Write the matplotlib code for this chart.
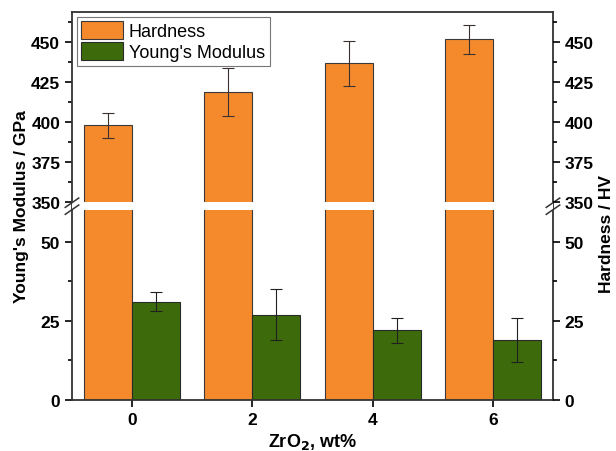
import matplotlib
matplotlib.use("Agg")
import matplotlib.pyplot as plt
import numpy as np

# data
zro2 = [0, 2, 4, 6]
hardness = [398, 419, 437, 452]
hardness_err = [8, 15, 14, 9]
modulus = [31, 27, 22, 19]
modulus_err = [3, 8, 4, 7]

major_ticks = [0, 25, 50, 350, 375, 400, 425, 450]
minor_ticks = [12.5, 37.5, 362.5, 387.5, 412.5, 437.5, 462.5]

plt.rcParams["font.family"] = ["Liberation Sans", "DejaVu Sans"]

# broken y axis: 0-60 in the lower half, 350-469 in the upper half
data_pts = [-100, 0, 60, 350, 1000]
scale_pts = [-316.7, 0, 190, 198, 198 + 650 * 1.6]

def fwd(v):
    return np.interp(v, data_pts, scale_pts)

def inv(v):
    return np.interp(v, scale_pts, data_pts)

orange = "#F58A2D"
green = "#3D6B0C"

fig = plt.figure(figsize=(6.16, 4.52), dpi=100)
ax = fig.add_axes([72 / 616, 51 / 452, 481 / 616, 388 / 452])
ax.set_yscale("function", functions=(fwd, inv))

x = np.array(zro2, dtype=float)
w = 0.8
ax.bar(x - w / 2, hardness, w, color=orange, edgecolor="#3a3a3a", lw=0.8,
       label="Hardness", zorder=2)
ax.bar(x + w / 2, modulus, w, color=green, edgecolor="#2a2a2a", lw=0.8,
       label="Young's Modulus", zorder=2)
ax.errorbar(x - w / 2, hardness, yerr=hardness_err, fmt="none",
            ecolor="#3a3030", elinewidth=0.8, capsize=4, capthick=0.8, zorder=3)
ax.errorbar(x + w / 2, modulus, yerr=modulus_err, fmt="none",
            ecolor="#202020", elinewidth=0.8, capsize=4, capthick=0.8, zorder=3)

# white gap across the bars
ax.axhspan(60, 350, color="white", zorder=4, lw=0)

ax.set_xlim(-1, 7)
ax.set_ylim(0, 469)
ax.set_xticks(zro2)
ax.set_yticks(major_ticks)
ax.set_yticks(minor_ticks, minor=True)
ax.tick_params(axis="both", direction="out", width=1.2, length=5,
               labelsize=12.5)
ax.tick_params(axis="y", which="minor", direction="out", width=1.2, length=3)
ax.tick_params(axis="y", right=True, which="both")
ax.tick_params(top=False)
for lab in ax.get_xticklabels() + ax.get_yticklabels():
    lab.set_fontweight("bold")
for s in ax.spines.values():
    s.set_linewidth(1.3)
    s.set_color("#333333")

ax2 = ax.twinx()
ax2.set_yscale("function", functions=(fwd, inv))
ax2.set_ylim(0, 469)
ax2.set_yticks(major_ticks)
ax2.set_yticks(minor_ticks, minor=True)
ax2.tick_params(axis="y", which="major", direction="out", width=1.2, length=5,
                labelsize=12.5)
ax2.tick_params(axis="y", which="minor", direction="out", width=1.2, length=3)
for lab in ax2.get_yticklabels():
    lab.set_fontweight("bold")
for s in ax2.spines.values():
    s.set_visible(False)

ax.set_ylabel("Young's Modulus / GPa", fontsize=12.5, fontweight="bold")
ax.yaxis.set_label_coords(-0.09, 0.5)
ax2.set_ylabel("Hardness / HV", fontsize=12.5, fontweight="bold")
ax2.yaxis.set_label_coords(1.095, 0.43)
ax.set_xlabel("ZrO$_\\mathbf{2}$, wt%", fontsize=13, fontweight="bold",
              labelpad=3)

# break marks on both spines
ybreak = (fwd(60) + fwd(350)) / 2 / fwd(469)
for xs in (0, 1):
    for dy in (-0.009, 0.009):
        ax.plot([xs - 0.014, xs + 0.014], [ybreak + dy - 0.012, ybreak + dy + 0.012],
                transform=ax.transAxes, color="#333333", lw=1.1,
                clip_on=False, zorder=6)

leg = ax.legend(loc="upper left", fontsize=13, frameon=True, fancybox=False,
                edgecolor="#555555", handlelength=2.3, handleheight=1.15,
                borderaxespad=0.25, labelspacing=0.1, handletextpad=0.35,
                borderpad=0.25)
leg.get_frame().set_linewidth(0.8)

fig.savefig("out.png", dpi=100)
